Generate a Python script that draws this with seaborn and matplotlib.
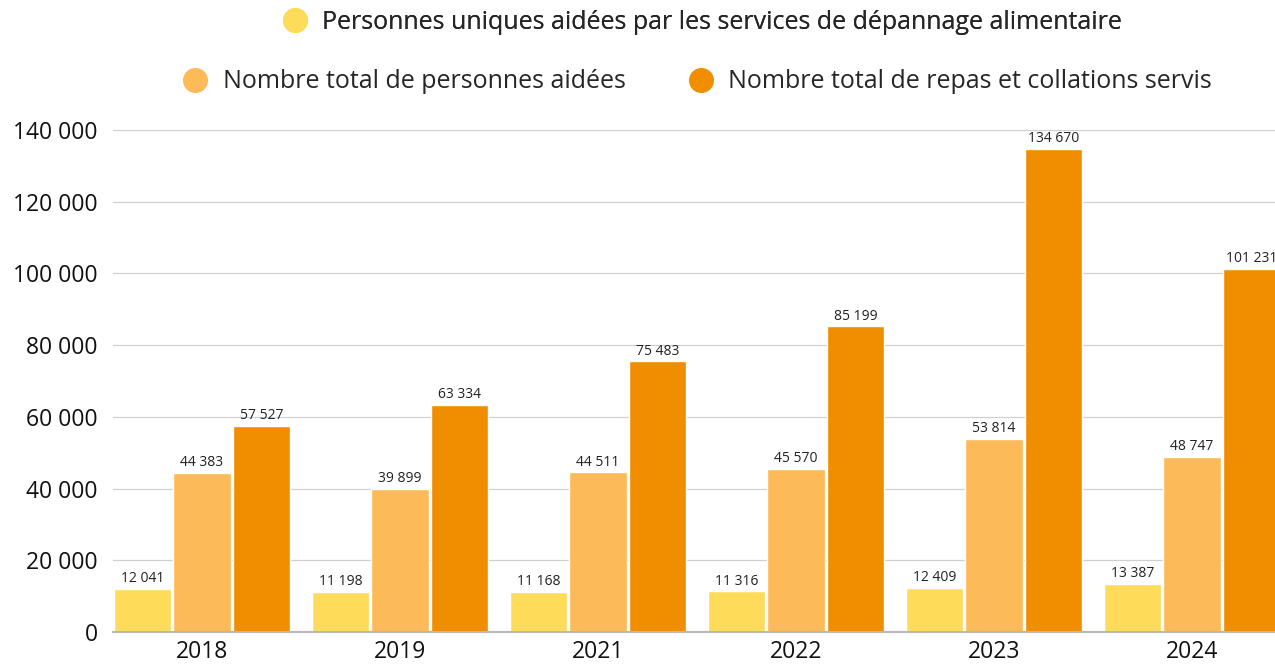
import pandas as pd
import matplotlib.pyplot as plt
import seaborn as sns
from matplotlib.lines import Line2D
from matplotlib.ticker import FuncFormatter

years = ["2018", "2019", "2021", "2022", "2023", "2024"]
series_names = [
    "Personnes uniques aidées par les services de dépannage alimentaire",
    "Nombre total de personnes aidées",
    "Nombre total de repas et collations servis",
]
uniques = [12041, 11198, 11168, 11316, 12409, 13387]
total_personnes = [44383, 39899, 44511, 45570, 53814, 48747]
total_repas = [57527, 63334, 75483, 85199, 134670, 101231]
colors = ["#FEDC5A", "#FDBA58", "#F08E00"]

df = pd.DataFrame({
    "annee": years * 3,
    "serie": [series_names[0]] * 6 + [series_names[1]] * 6 + [series_names[2]] * 6,
    "valeur": uniques + total_personnes + total_repas,
})

sns.set_theme(style="white")
plt.rcParams["font.family"] = ["Open Sans", "DejaVu Sans"]


def fmt(v):
    return f"{int(round(v)):,}".replace(",", " ")


fig = plt.figure(figsize=(12.75, 6.66), dpi=100)
ax = fig.add_axes([0.0886, 0.051, 0.9114, 0.754])

sns.barplot(data=df, x="annee", y="valeur", hue="serie", palette=colors,
            width=0.9, gap=0.035, ax=ax, legend=False, saturation=1)

for cont in ax.containers:
    ax.bar_label(cont, labels=[fmt(b.get_height()) for b in cont],
                 fontsize=10, padding=2, color="#222222")

ax.set_ylim(0, 140000)
ax.set_xlim(-0.45, 5.42)
ax.set_yticks(range(0, 140001, 20000))
ax.yaxis.set_major_formatter(FuncFormatter(lambda v, p: fmt(v)))
ax.grid(axis="y", color="#d0d0d0", linewidth=0.9)
ax.set_axisbelow(True)
for s in ["top", "right", "left"]:
    ax.spines[s].set_visible(False)
ax.spines["bottom"].set_color("#b8b8b8")
ax.spines["bottom"].set_linewidth(1.5)
ax.tick_params(axis="both", length=0, labelsize=16.5, colors="#111111")
ax.tick_params(axis="y", pad=11)
ax.tick_params(axis="x", pad=6)
ax.set_xlabel("")
ax.set_ylabel("")


def handle(c):
    return Line2D([0], [0], marker="o", linestyle="", markersize=17,
                  markerfacecolor=c, markeredgecolor=c)


leg1 = fig.legend([handle(colors[0])], [series_names[0]], loc="center",
                  bbox_to_anchor=(0.546, 0.966), frameon=False, fontsize=18,
                  handletextpad=0.1)
fig.add_artist(leg1)
fig.legend([handle(colors[1]), handle(colors[2])], series_names[1:], loc="center",
           bbox_to_anchor=(0.542, 0.877), frameon=False, fontsize=18, ncol=2,
           handletextpad=0.1, columnspacing=2.0)

fig.savefig("out.png", dpi=100)
